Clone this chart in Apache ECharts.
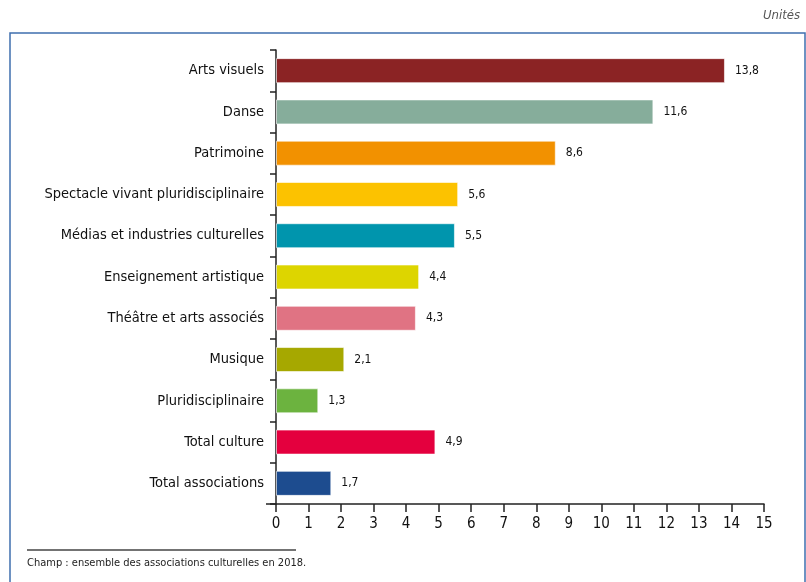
<!DOCTYPE html>
<html>
<head>
<meta charset="utf-8">
<script src="https://cdn.jsdelivr.net/npm/echarts@6/dist/echarts.min.js"></script>
<style>
html,body{margin:0;padding:0;background:#fff;}
#main{width:806px;height:582px;}
</style>
</head>
<body>
<div id="main"></div>
<script>
// données
var categories = ['Arts visuels','Danse','Patrimoine','Spectacle vivant pluridisciplinaire',
	'Médias et industries culturelles','Enseignement artistique','Théâtre et arts associés',
	'Musique','Pluridisciplinaire','Total culture','Total associations'];
var values = [13.8, 11.6, 8.6, 5.6, 5.5, 4.4, 4.3, 2.1, 1.3, 4.9, 1.7];
var barColors = ['#8b2324','#86ad9b','#f29100','#fcc200','#0095ad','#ddd500',
	'#e07383','#a6a800','#6cb33f','#e4003e','#1d4c8f'];
var xTicks = [0,1,2,3,4,5,6,7,8,9,10,11,12,13,14,15];

var font = '"Liberation Sans Narrow", "DejaVu Sans Condensed", sans-serif';
var myChart = echarts.init(document.getElementById('main'));

var seriesData = [];
for (var i = 0; i < values.length; i++) {
	seriesData.push({value: values[i], itemStyle: {color: barColors[i]}});
}

var option = {
	animation: false,
	backgroundColor: '#fff',
	grid: {left: 276, right: 42, top: 50, bottom: 78, containLabel: false},
	xAxis: {
		type: 'value',
		min: xTicks[0],
		max: xTicks[xTicks.length - 1],
		interval: 1,
		splitLine: {show: false},
		axisLine: {show: true, lineStyle: {color: '#222', width: 1.5}},
		axisTick: {show: true, length: 8, lineStyle: {color: '#222', width: 1.5}},
		axisLabel: {color: '#111', fontSize: 15, fontFamily: font, margin: 13}
	},
	yAxis: {
		type: 'category',
		inverse: true,
		data: categories,
		axisLine: {show: true, lineStyle: {color: '#222', width: 1.5}},
		axisTick: {show: true, length: 6, lineStyle: {color: '#222', width: 1.5}},
		axisLabel: {color: '#111', fontSize: 14.5, fontFamily: font, margin: 12}
	},
	series: [{
		type: 'bar',
		data: seriesData,
		barWidth: 25,
		itemStyle: {borderColor: 'rgba(255,255,255,0.6)', borderWidth: 1},
		label: {
			show: true,
			position: 'right',
			distance: 10,
			color: '#111',
			fontSize: 12,
			fontFamily: font,
			formatter: function(p) { return String(p.value.toFixed(1)).replace('.', ','); }
		}
	}],
	graphic: [
		{type: 'rect', shape: {x: 10, y: 33, width: 795, height: 600},
			style: {fill: 'none', stroke: '#3f6fae', lineWidth: 1.5}, silent: true},
		{type: 'line', shape: {x1: 266, y1: 504, x2: 276, y2: 504},
			style: {stroke: '#222', lineWidth: 1.5}},
		{type: 'text', right: 6, top: 9,
			style: {text: 'Unités', fill: '#555', fontSize: 13, fontStyle: 'italic', fontFamily: font}},
		{type: 'line', shape: {x1: 27, y1: 550, x2: 296, y2: 550},
			style: {stroke: '#444', lineWidth: 1.5}},
		{type: 'text', left: 27, top: 558,
			style: {text: 'Champ : ensemble des associations culturelles en 2018.', fill: '#222', fontSize: 11, fontFamily: font}}
	]
};

myChart.setOption(option);
</script>
</body>
</html>
